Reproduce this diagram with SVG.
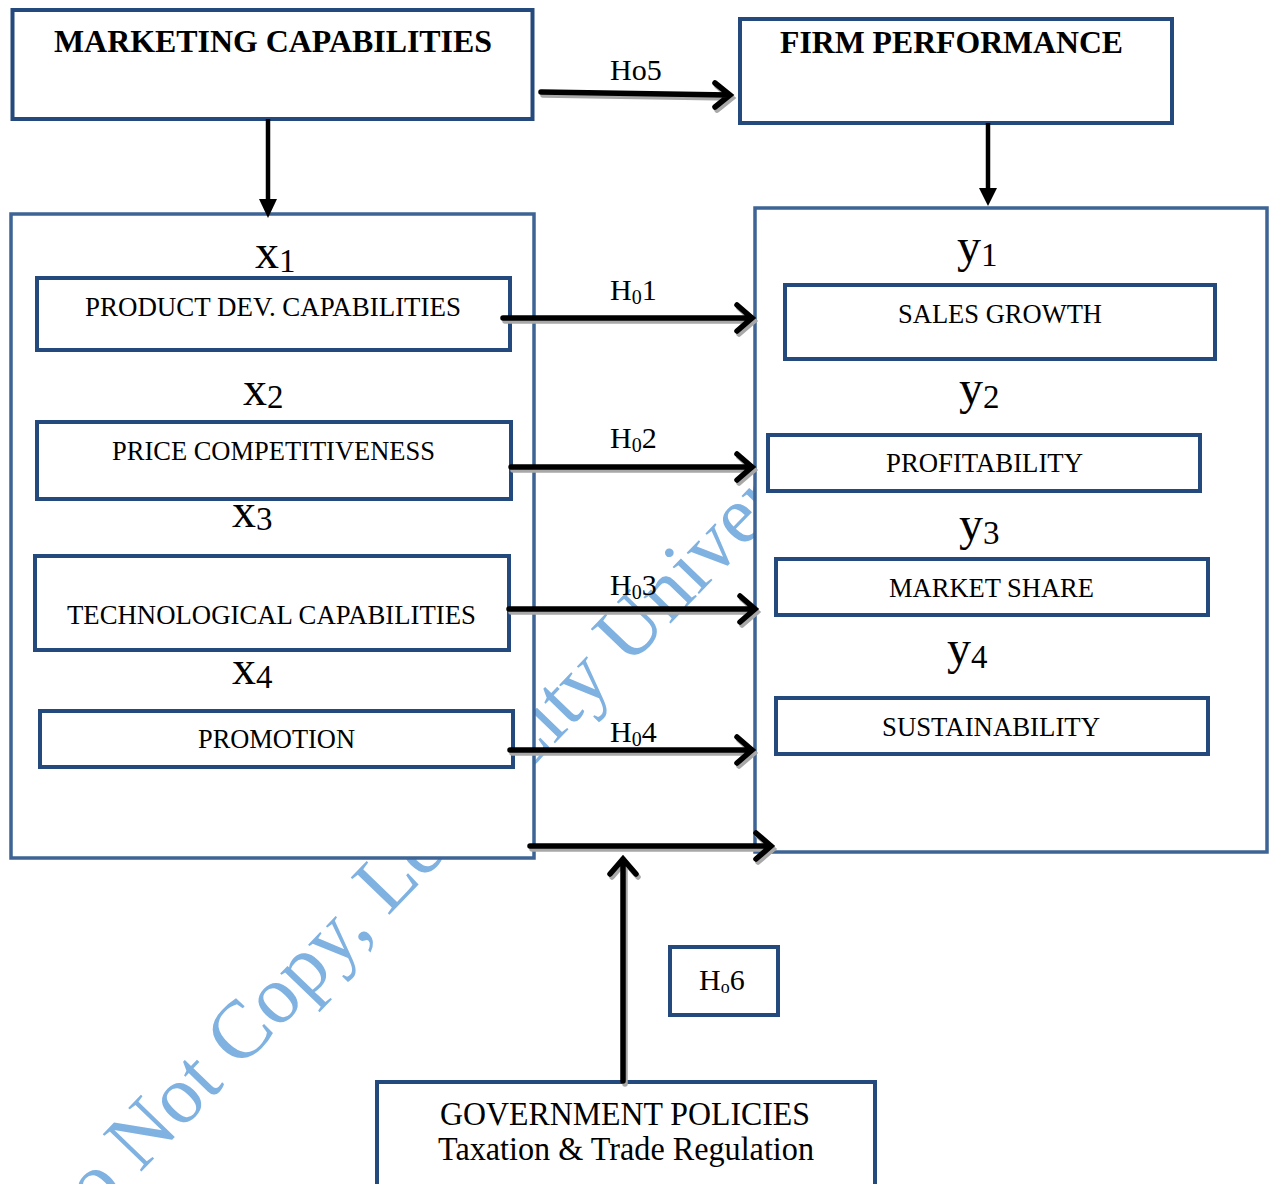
<svg xmlns="http://www.w3.org/2000/svg" width="1274" height="1184" viewBox="0 0 1274 1184">
<style>
.wm{font-family:"Liberation Serif","Times New Roman",serif;font-size:82px;fill:#7fb1e1}
.box{fill:#fff;stroke:#24497c;stroke-width:4}
.big{fill:#fff;stroke:#3d6494;stroke-width:3.5}
.t{font-family:"Liberation Serif","Times New Roman",serif;fill:#000;text-anchor:middle}
.tb{font-weight:bold;font-size:32px}
.in{font-size:28px}
.lbl{font-family:"Liberation Serif","Times New Roman",serif;font-size:30px;fill:#000}
.var{font-family:"Liberation Serif","Times New Roman",serif;font-size:48px;fill:#000}
.sub{font-size:33px}
.sh{fill:none;stroke:#a8a8a8;stroke-width:5.5;stroke-linecap:round}
.ar{fill:none;stroke:#000;stroke-width:5.5;stroke-linecap:round;stroke-linejoin:miter}
</style>
<rect width="1274" height="1184" fill="#fff"/>
<g id="watermark">
<text class="wm" transform="translate(56,1260) rotate(-46)">Do Not Copy, Lead City University</text>
</g>
<g id="marketing-capabilities">
<rect class="box" x="12.5" y="10" width="520" height="109" stroke="#264e80"/>
<text class="t tb" x="273" y="52" textLength="438" lengthAdjust="spacingAndGlyphs">MARKETING CAPABILITIES</text>
</g>
<g id="firm-performance">
<rect class="box" x="740" y="19" width="432" height="104" stroke="#41699a"/>
<text class="t tb" x="951.5" y="53" textLength="343" lengthAdjust="spacingAndGlyphs">FIRM PERFORMANCE</text>
</g>
<g id="independent-variables">
<rect class="big" x="11" y="214" width="523" height="644"/>
</g>
<g id="dependent-variables">
<rect class="big" x="755" y="208" width="512" height="644"/>
</g>
<g id="x1">
<text class="var" x="255" y="268">x<tspan class="sub" dy="4">1</tspan></text>
<rect class="box" x="37" y="278" width="473" height="72"/>
<text class="t in" x="273" y="316" textLength="376" lengthAdjust="spacingAndGlyphs">PRODUCT DEV. CAPABILITIES</text>
</g>
<g id="x2">
<text class="var" x="243" y="405">x<tspan class="sub" dy="3">2</tspan></text>
<rect class="box" x="37" y="422" width="474" height="77"/>
<text class="t in" x="273.5" y="460" textLength="323" lengthAdjust="spacingAndGlyphs">PRICE COMPETITIVENESS</text>
</g>
<g id="x3">
<text class="var" x="232" y="527">x<tspan class="sub" dy="3">3</tspan></text>
<rect class="box" x="35" y="556" width="474" height="94"/>
<text class="t in" x="271.5" y="624" textLength="409" lengthAdjust="spacingAndGlyphs">TECHNOLOGICAL CAPABILITIES</text>
</g>
<g id="x4">
<text class="var" x="232" y="684">x<tspan class="sub" dy="4">4</tspan></text>
<rect class="box" x="40" y="711" width="473" height="56"/>
<text class="t in" x="276.5" y="748" textLength="157" lengthAdjust="spacingAndGlyphs">PROMOTION</text>
</g>
<g id="y1">
<text class="var" x="957" y="262">y<tspan class="sub" dy="4">1</tspan></text>
<rect class="box" x="785" y="285" width="430" height="74"/>
<text class="t in" x="1000" y="323" textLength="204" lengthAdjust="spacingAndGlyphs">SALES GROWTH</text>
</g>
<g id="y2">
<text class="var" x="959" y="404">y<tspan class="sub" dy="4">2</tspan></text>
<rect class="box" x="768" y="435" width="432" height="56"/>
<text class="t in" x="984.5" y="472" textLength="197" lengthAdjust="spacingAndGlyphs">PROFITABILITY</text>
</g>
<g id="y3">
<text class="var" x="959" y="540">y<tspan class="sub" dy="4">3</tspan></text>
<rect class="box" x="776" y="559" width="432" height="56"/>
<text class="t in" x="991.5" y="597" textLength="205" lengthAdjust="spacingAndGlyphs">MARKET SHARE</text>
</g>
<g id="y4">
<text class="var" x="947" y="664">y<tspan class="sub" dy="4">4</tspan></text>
<rect class="box" x="776" y="698" width="432" height="56"/>
<text class="t in" x="991" y="736" textLength="218" lengthAdjust="spacingAndGlyphs">SUSTAINABILITY</text>
</g>
<g id="ho6">
<rect class="box" x="670" y="947" width="108" height="68"/>
<text class="lbl" x="699" y="990">H<tspan font-size="18" dy="3">o</tspan><tspan dy="-3">6</tspan></text>
</g>
<g id="government-policies">
<rect class="box" x="377" y="1082" width="498" height="104" stroke="#2a5083"/>
<text class="t" font-size="33" x="625" y="1125" textLength="370" lengthAdjust="spacingAndGlyphs">GOVERNMENT POLICIES</text>
<text class="t" font-size="33" x="626" y="1160" textLength="376" lengthAdjust="spacingAndGlyphs">Taxation &amp; Trade Regulation</text>
</g>
<g id="connectors">
<g transform="translate(2,3)">
<path class="sh" d="M541,92 L729,95 M715,83 L730,95 L715,107"/>
<path class="sh" d="M503,318 H752 M737,305 L752,318 L737,331"/>
<path class="sh" d="M511,467 H752 M737,454 L752,467 L737,480"/>
<path class="sh" d="M509,609 H755 M740,596 L755,609 L740,622"/>
<path class="sh" d="M510,750 H752 M737,737 L752,750 L737,763"/>
<path class="sh" d="M530,846 H771 M756,833 L771,846 L756,859"/>
<path class="sh" d="M623,1081 V859 M610,874 L623,859 L636,874"/>
</g>
<path d="M268,119 V201" stroke="#000" stroke-width="4.5"/>
<polygon points="259,199 277,199 268,218" fill="#000"/>
<path d="M988,123 V190" stroke="#000" stroke-width="4.5"/>
<polygon points="979,188 997,188 988,206" fill="#000"/>
<path class="ar" d="M541,92 L729,95 M715,83 L730,95 L715,107"/>
<path class="ar" d="M503,318 H752 M737,305 L752,318 L737,331"/>
<path class="ar" d="M511,467 H752 M737,454 L752,467 L737,480"/>
<path class="ar" d="M509,609 H755 M740,596 L755,609 L740,622"/>
<path class="ar" d="M510,750 H752 M737,737 L752,750 L737,763"/>
<path class="ar" d="M530,846 H771 M756,833 L771,846 L756,859"/>
<path class="ar" d="M623,1081 V859 M610,874 L623,859 L636,874"/>
<text class="lbl" x="610" y="80">Ho5</text>
<text class="lbl" x="610" y="300">H<tspan font-size="20" dy="4">0</tspan><tspan dy="-4">1</tspan></text>
<text class="lbl" x="610" y="448">H<tspan font-size="20" dy="4">0</tspan><tspan dy="-4">2</tspan></text>
<text class="lbl" x="610" y="595">H<tspan font-size="20" dy="4">0</tspan><tspan dy="-4">3</tspan></text>
<text class="lbl" x="610" y="742">H<tspan font-size="20" dy="4">0</tspan><tspan dy="-4">4</tspan></text>
</g>
</svg>
